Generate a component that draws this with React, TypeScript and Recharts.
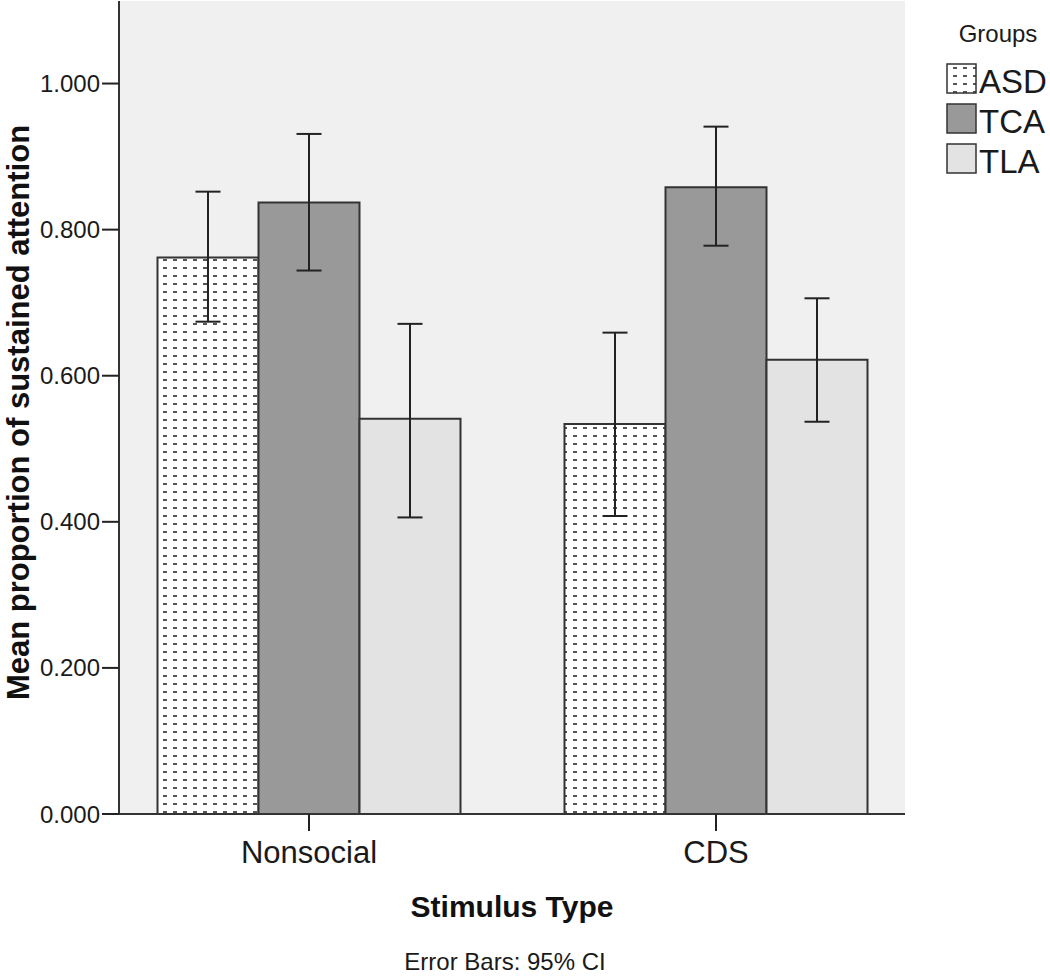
import React from "react";
import { Bar, BarChart, CartesianGrid, ErrorBar, Label, XAxis, YAxis } from "recharts";

const FONT = "'Liberation Sans', Arial, Helvetica, sans-serif";

const categories = ["Nonsocial", "CDS"];
const groups = ["ASD", "TCA", "TLA"];

// means and 95% CI bounds
const asdMean = [0.762, 0.534];
const asdLow = [0.674, 0.408];
const asdHigh = [0.852, 0.659];

const tcaMean = [0.837, 0.858];
const tcaLow = [0.744, 0.778];
const tcaHigh = [0.931, 0.941];

const tlaMean = [0.541, 0.622];
const tlaLow = [0.406, 0.537];
const tlaHigh = [0.671, 0.706];

const yTicks = [0, 0.2, 0.4, 0.6, 0.8, 1.0];

const fills: Record<string, string> = {
  ASD: "url(#asdDash)",
  TCA: "#999999",
  TLA: "#e3e3e3"
};

const data = categories.map((stimulus, i) => ({
  stimulus,
  ASD: asdMean[i],
  ASDerr: [asdMean[i] - asdLow[i], asdHigh[i] - asdMean[i]],
  TCA: tcaMean[i],
  TCAerr: [tcaMean[i] - tcaLow[i], tcaHigh[i] - tcaMean[i]],
  TLA: tlaMean[i],
  TLAerr: [tlaMean[i] - tlaLow[i], tlaHigh[i] - tlaMean[i]]
}));

function DashPattern({ id }: { id: string }) {
  return (
    <pattern id={id} width={10} height={8} patternUnits="userSpaceOnUse">
      <rect width={10} height={8} fill="#ffffff" />
      <rect x={3} y={3} width={4} height={2} fill="#555555" />
    </pattern>
  );
}

function GroupsLegend() {
  return (
    <svg
      width={110}
      height={190}
      style={{ position: "absolute", left: 940, top: 0 }}
    >
      <defs>
        <DashPattern id="asdDashLegend" />
      </defs>
      <text x={58} y={42} textAnchor="middle" fontFamily={FONT} fontSize={24} fill="#1a1a1a">
        Groups
      </text>
      {groups.map((g, i) => (
        <g key={g}>
          <rect
            x={7}
            y={64 + i * 40}
            width={29}
            height={29}
            fill={g === "ASD" ? "url(#asdDashLegend)" : fills[g]}
            stroke="#333"
            strokeWidth={1.5}
          />
          <text x={39} y={93 + i * 40} fontFamily={FONT} fontSize={33} fill="#1a1a1a">
            {g}
          </text>
        </g>
      ))}
    </svg>
  );
}

export default function App() {
  return (
    <div
      style={{
        position: "absolute",
        left: 0,
        top: 0,
        width: 1050,
        height: 976,
        background: "#fff",
        fontFamily: FONT
      }}
    >
      <BarChart
        width={1050}
        height={976}
        data={data}
        margin={{ top: 1, right: 145, bottom: 0, left: 0 }}
        barGap={0}
        barCategoryGap={52}
      >
        <defs>
          <DashPattern id="asdDash" />
        </defs>
        <CartesianGrid fill="#f0f0f0" horizontal={false} vertical={false} />
        <XAxis
          dataKey="stimulus"
          scale="point"
          padding={{ left: 190, right: 189 }}
          height={162}
          tickSize={17}
          tickMargin={10}
          axisLine={{ stroke: "#333", strokeWidth: 2 }}
          tickLine={{ stroke: "#222", strokeWidth: 2 }}
          tick={{ fontSize: 31, fill: "#1a1a1a", fontFamily: FONT }}
        >
          <Label
            content={({ viewBox }: any) => {
              const cx = viewBox.x + viewBox.width / 2;
              return (
                <g>
                  <text
                    x={cx}
                    y={viewBox.y + 103}
                    textAnchor="middle"
                    fontFamily={FONT}
                    fontWeight="bold"
                    fontSize={30}
                    fill="#111"
                  >
                    Stimulus Type
                  </text>
                  <text
                    x={cx - 7}
                    y={viewBox.y + 156}
                    textAnchor="middle"
                    fontFamily={FONT}
                    fontSize={24}
                    fill="#1a1a1a"
                  >
                    Error Bars: 95% CI
                  </text>
                </g>
              );
            }}
          />
        </XAxis>
        <XAxis
          xAxisId="top"
          dataKey="stimulus"
          orientation="top"
          height={0}
          tick={false}
          tickLine={false}
          axisLine={{ stroke: "#333", strokeWidth: 2 }}
        />
        <YAxis
          domain={[0, 1.113]}
          ticks={yTicks}
          width={119}
          tickSize={17}
          tickMargin={2}
          tickFormatter={(v: number) => v.toFixed(3)}
          axisLine={{ stroke: "#333", strokeWidth: 2 }}
          tickLine={{ stroke: "#222", strokeWidth: 2 }}
          tick={{ fontSize: 24, fill: "#1a1a1a", fontFamily: FONT }}
        >
          <Label
            content={({ viewBox }: any) => {
              const cy = viewBox.y + viewBox.height / 2 + 5;
              return (
                <text
                  x={29}
                  y={cy}
                  transform={`rotate(-90, 29, ${cy})`}
                  textAnchor="middle"
                  fontFamily={FONT}
                  fontWeight="bold"
                  fontSize={31}
                  fill="#111"
                >
                  Mean proportion of sustained attention
                </text>
              );
            }}
          />
        </YAxis>
        <YAxis
          yAxisId="right"
          orientation="right"
          width={0}
          tick={false}
          tickLine={false}
          axisLine={{ stroke: "#333", strokeWidth: 2 }}
        />
        {groups.map((g) => (
          <Bar
            key={g}
            dataKey={g}
            fill={fills[g]}
            stroke="#333"
            strokeWidth={2}
            isAnimationActive={false}
          >
            <ErrorBar
              dataKey={`${g}err`}
              width={12.5}
              stroke="#222"
              strokeWidth={2}
              isAnimationActive={false}
            />
          </Bar>
        ))}
      </BarChart>
      <GroupsLegend />
    </div>
  );
}
